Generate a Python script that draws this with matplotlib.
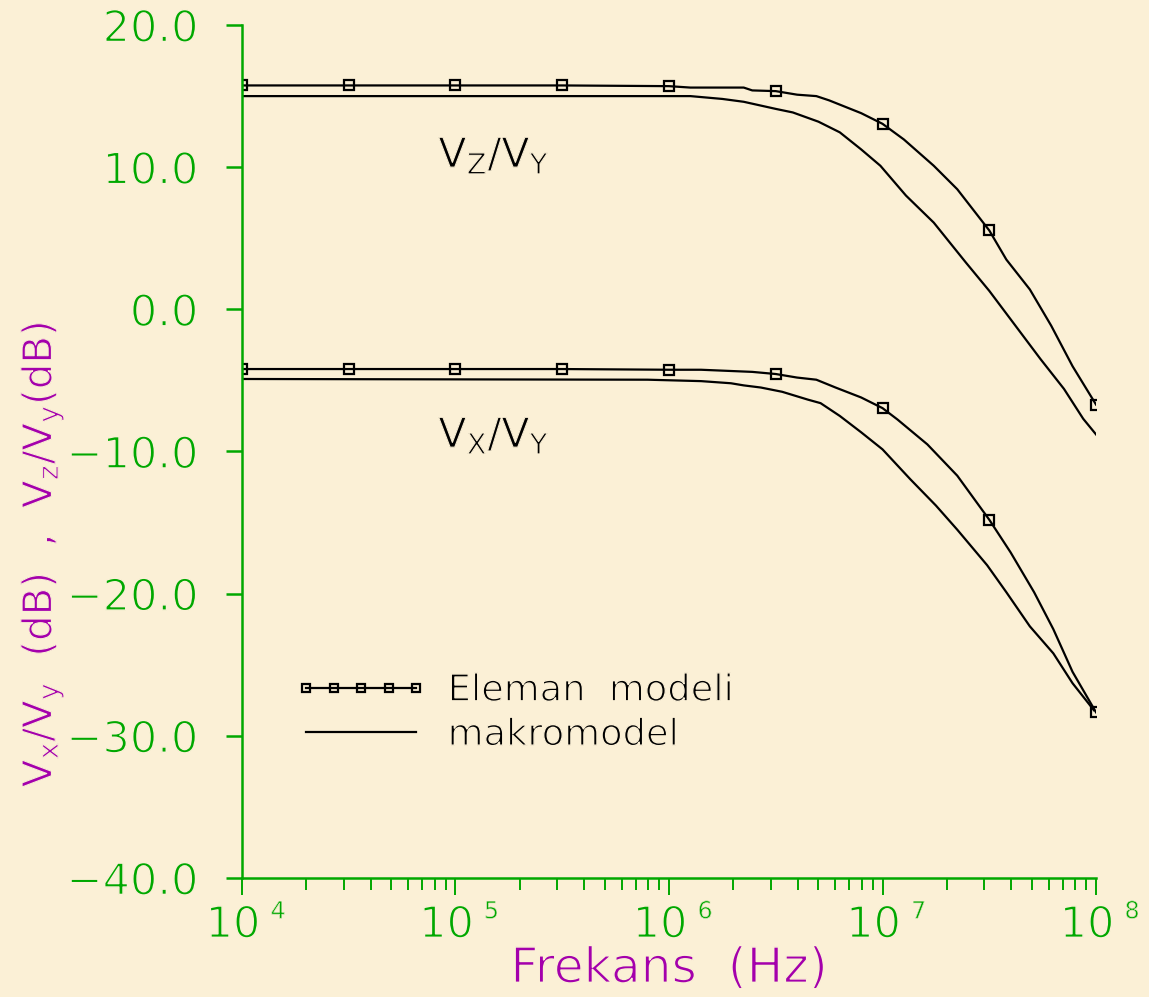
import numpy as np
import matplotlib.pyplot as plt
import matplotlib.patheffects as pe
from matplotlib.transforms import ScaledTranslation

# log10 of frequency (Hz) and gain in dB
vz_elem_logf = [4.0, 4.5, 5.0, 5.5, 6.0, 6.10, 6.35, 6.39, 6.5, 6.60, 6.69, 6.75,
                6.80, 6.9, 7.0, 7.10, 7.24, 7.35, 7.5, 7.58, 7.69, 7.79, 7.89, 8.0]
vz_elem_db = [15.75, 15.75, 15.75, 15.75, 15.7, 15.6, 15.6, 15.4, 15.35, 15.1, 15.0, 14.7,
              14.4, 13.8, 13.05, 11.95, 10.1, 8.45, 5.55, 3.5, 1.4, -1.15, -4.0, -6.7]

vz_macro_logf = [4.0, 5.9, 6.1, 6.25, 6.35, 6.5, 6.58, 6.70, 6.80, 6.9, 6.99, 7.11,
                 7.24, 7.39, 7.5, 7.6, 7.74, 7.85, 7.94, 8.0]
vz_macro_db = [15.0, 15.0, 15.0, 14.8, 14.6, 14.1, 13.85, 13.2, 12.45, 11.25, 10.1, 8.0,
               6.1, 3.3, 1.3, -0.7, -3.5, -5.6, -7.7, -8.8]

vx_elem_logf = [4.0, 4.5, 5.0, 5.5, 6.0, 6.15, 6.39, 6.5, 6.6, 6.69, 6.78, 6.9,
                7.0, 7.07, 7.21, 7.35, 7.5, 7.6, 7.71, 7.80, 7.89, 8.0]
vx_elem_db = [-4.2, -4.2, -4.2, -4.2, -4.25, -4.25, -4.4, -4.55, -4.8, -4.95, -5.5, -6.2,
              -6.95, -7.75, -9.5, -11.7, -14.8, -17.1, -19.9, -22.5, -25.5, -28.35]

vx_macro_logf = [4.0, 5.9, 6.15, 6.29, 6.35, 6.43, 6.53, 6.65, 6.71, 6.80, 6.9, 7.0,
                 7.13, 7.25, 7.35, 7.49, 7.58, 7.69, 7.80, 7.89, 7.99]
vx_macro_db = [-4.9, -4.95, -5.05, -5.2, -5.35, -5.5, -5.8, -6.35, -6.6, -7.5, -8.65, -9.85,
               -11.95, -13.8, -15.5, -18.0, -19.9, -22.3, -24.2, -26.3, -28.2]

# markers sit on every half decade
marker_logf = [4.0, 4.5, 5.0, 5.5, 6.0, 6.5, 7.0, 7.5, 8.0]

y_ticks = [20, 10, 0, -10, -20, -30, -40]
decades = [4, 5, 6, 7, 8]

GREEN = '#00a800'
PURPLE = '#a400ac'
PAPER = '#fbf0d6'

plt.rcParams['font.family'] = ['DejaVu Sans']


def thin(w=1.0):
    # paint the glyph edges in paper colour so the letters come out thin
    return [pe.Normal(), pe.Stroke(linewidth=w, foreground=PAPER)]


def mark_idx(logf):
    return [i for i, v in enumerate(logf) if any(abs(v - m) < 1e-9 for m in marker_logf)]


fig = plt.figure(figsize=(11.49, 9.97), dpi=100, facecolor=PAPER)
ax = fig.add_axes([0.2106, 0.1194, 0.7433, 0.8555])
ax.set_facecolor(PAPER)

line_kw = dict(color='black', lw=1.6)
mk_kw = dict(marker='s', ms=7, mfc='none', mec='black', mew=1.6)

f = lambda lf: 10.0 ** np.asarray(lf)

ax.plot(f(vz_elem_logf), vz_elem_db, markevery=mark_idx(vz_elem_logf),
        label='Eleman  modeli', **line_kw, **mk_kw)
ax.plot(f(vz_macro_logf), vz_macro_db, label='makromodel', **line_kw)
ax.plot(f(vx_elem_logf), vx_elem_db, markevery=mark_idx(vx_elem_logf), **line_kw, **mk_kw)
ax.plot(f(vx_macro_logf), vx_macro_db, **line_kw)

ax.set_xscale('log')
ax.set_xlim(1e4, 1e8)
ax.set_ylim(-40, 20)

for side in ('top', 'right'):
    ax.spines[side].set_visible(False)
for side in ('left', 'bottom'):
    ax.spines[side].set_color(GREEN)
    ax.spines[side].set_linewidth(1.8)

ax.set_yticks(y_ticks)
ax.set_yticklabels([f'{v:.1f}'.replace('-', '\u2212') for v in y_ticks])
ax.tick_params(axis='y', colors=GREEN, length=11.5, width=1.8, pad=20,
               labelsize=31)

ax.set_xticks([10.0 ** d for d in decades])
ax.set_xticklabels(['10'] * len(decades))
ax.tick_params(axis='x', which='major', colors=GREEN, length=12, width=1.4,
               pad=7, labelsize=31)
ax.tick_params(axis='x', which='minor', colors=GREEN, length=8.5, width=1.4)
shift = ScaledTranslation(-9 / 100, 0, fig.dpi_scale_trans)
for lab in ax.get_xticklabels():
    lab.set_transform(lab.get_transform() + shift)
for lab in ax.get_xticklabels() + ax.get_yticklabels():
    lab.set_path_effects(thin(1.1))

# decade exponents, raised and set apart from the "10"
for d in decades:
    ax.annotate(str(d), xy=(10.0 ** d, 0), xycoords=('data', 'axes fraction'),
                xytext=(26, -24), textcoords='offset points',
                color=GREEN, fontsize=17, ha='center', va='center',
                path_effects=thin(0.5))

ax.set_xlabel('Frekans  (Hz)', color=PURPLE, fontsize=35, path_effects=thin(1.1))
ax.xaxis.set_label_coords(0.5, -0.106)
ax.xaxis.label.set_va('center')
ax.set_ylabel(r'$\mathregular{V_x/V_y}$  (dB)  ,  $\mathregular{V_z/V_y}$(dB)',
              color=PURPLE, fontsize=29, path_effects=thin(0.8))
ax.yaxis.set_label_coords(-0.206, 0.379)

ax.text(10 ** 5.18, 10.0, r'$\mathregular{V_Z/V_Y}$', fontsize=29.5,
        ha='center', va='baseline', path_effects=thin(0.8))
ax.text(10 ** 5.18, -9.7, r'$\mathregular{V_X/V_Y}$', fontsize=29.5,
        ha='center', va='baseline', path_effects=thin(0.8))

leg = ax.legend(loc='center left', bbox_to_anchor=(0.062, 0.194), frameon=False,
                borderpad=0, borderaxespad=0,
                numpoints=5, markerscale=0.75, handlelength=3.6, handletextpad=0.55,
                labelspacing=0.2, fontsize=26.5)
for t in leg.get_texts():
    t.set_path_effects(thin(1.0))

fig.savefig('out.png', dpi=100, facecolor=PAPER)
